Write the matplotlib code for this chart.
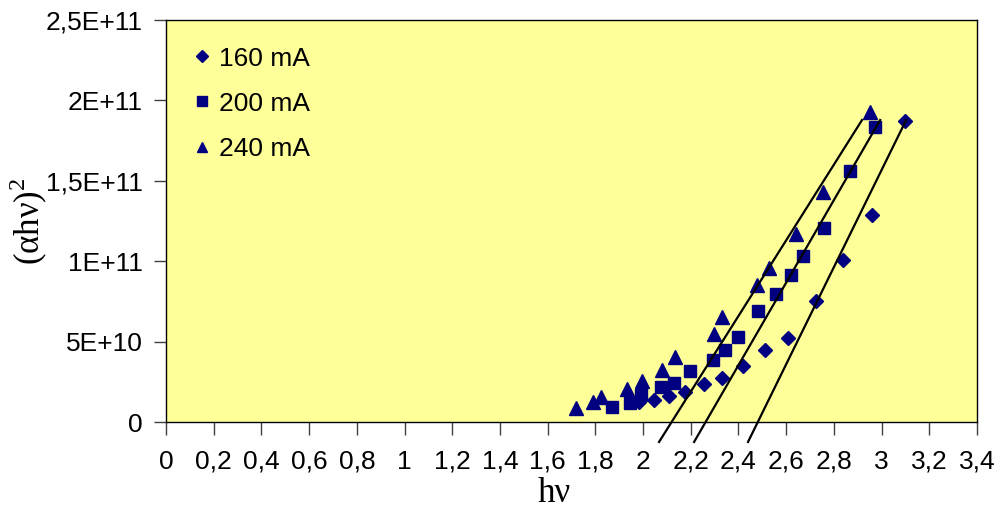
import numpy as np
import matplotlib
matplotlib.use("Agg")
import matplotlib.pyplot as plt

plt.rcParams['font.family'] = ['Liberation Sans', 'DejaVu Sans']
plt.rcParams['mathtext.fontset'] = 'custom'
plt.rcParams['mathtext.rm'] = 'Liberation Serif'

# данные (hv, (alpha*hv)^2 в единицах 1E10)
hv_160 = [1.983, 2.046, 2.109, 2.176, 2.256, 2.331, 2.419, 2.512, 2.608, 2.725, 2.839, 2.960, 3.099]
a_160 = [1.24, 1.37, 1.62, 1.87, 2.36, 2.74, 3.48, 4.48, 5.22, 7.52, 10.07, 12.87, 18.72]

hv_200 = [1.870, 1.946, 1.992, 2.075, 2.130, 2.197, 2.294, 2.344, 2.398, 2.482, 2.558, 2.621,
          2.671, 2.759, 2.868, 2.973]
a_200 = [0.93, 1.18, 1.68, 2.18, 2.43, 3.17, 3.86, 4.48, 5.29, 6.90, 7.96, 9.14,
         10.32, 12.06, 15.61, 18.35]

hv_240 = [1.719, 1.790, 1.824, 1.933, 1.996, 2.080, 2.134, 2.298, 2.331, 2.478, 2.528, 2.642, 2.755, 2.952]
a_240 = [0.87, 1.24, 1.55, 2.05, 2.55, 3.23, 4.04, 5.47, 6.53, 8.52, 9.58, 11.69, 14.30, 19.28]

labels = ['160 mA', '200 mA', '240 mA']

# касательные (концы отрезков)
tangent_x = [[2.067, 2.918], [2.214, 2.994], [2.440, 3.103]]
tangent_y = [[-1.24, 18.78], [-1.24, 18.78], [-1.24, 18.78]]

xticks = np.arange(0, 3.41, 0.2)
xticklabels = ['0', '0,2', '0,4', '0,6', '0,8', '1', '1,2', '1,4', '1,6', '1,8',
               '2', '2,2', '2,4', '2,6', '2,8', '3', '3,2', '3,4']
yticks = [0, 5e10, 1e11, 1.5e11, 2e11, 2.5e11]
yticklabels = ['0', '5E+10', '1E+11', '1,5E+11', '2E+11', '2,5E+11']

navy = '#000080'

fig = plt.figure(figsize=(10, 5.18), dpi=100)
ax = fig.add_axes([0.166, 0.1853, 0.811, 0.7761])
ax.set_facecolor('#FFFF99')

ax.plot(hv_160, np.array(a_160) * 1e10, 'D', color=navy, ms=7.3, label=labels[0], ls='none')
ax.plot(hv_200, np.array(a_200) * 1e10, 's', color=navy, ms=9, label=labels[1], ls='none')
ax.plot(hv_240, np.array(a_240) * 1e10, '^', color=navy, ms=9.5, label=labels[2], ls='none')

for tx, ty in zip(tangent_x, tangent_y):
    ax.plot(tx, np.array(ty) * 1e10, color='black', lw=1.6, clip_on=False, zorder=3)

ax.set_xlim(0, 3.4)
ax.set_ylim(0, 2.5e11)
ax.set_xticks(xticks)
ax.set_xticklabels(xticklabels, fontsize=19)
ax.set_yticks(yticks)
ax.set_yticklabels(yticklabels, fontsize=19)
ax.tick_params(axis='x', direction='out', length=9, width=1, color='#404040', pad=11)
ax.tick_params(axis='y', direction='out', length=9, width=1, color='#404040', pad=8)
for s in ax.spines.values():
    s.set_color('black')
    s.set_linewidth(1)

ax.set_xlabel('hν', fontsize=25, family='Liberation Serif')
ax.xaxis.set_label_coords(0.479, -0.137)
ax.set_ylabel('(αhν)$^{2}$', fontsize=25, family='Liberation Serif')
ax.yaxis.set_label_coords(-0.143, 0.5)

ax.legend(loc='upper left', bbox_to_anchor=(0.004, 0.993), frameon=False, fontsize=19,
          handlelength=0.7, handletextpad=0.3, labelspacing=0.8, markerscale=0.8)

fig.savefig('out.png', dpi=100)
